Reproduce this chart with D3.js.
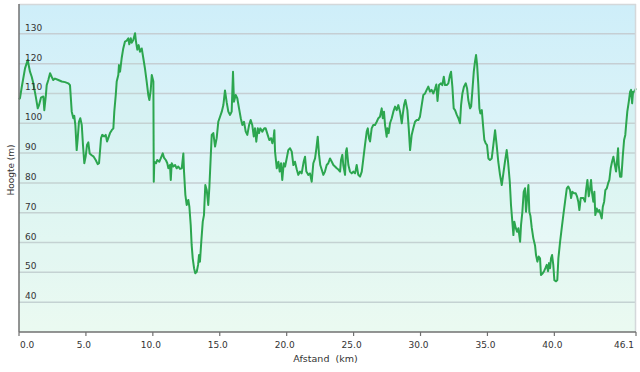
<!DOCTYPE html>
<meta charset="utf-8">
<body>
<style>
body { margin: 0; background: #fff; }
svg { display: block; }
.lbl { font: 9px "DejaVu Sans", Verdana, sans-serif; fill: #333; }
</style>
<script src="https://d3js.org/d3.v7.min.js"></script>
<script>

// distance (km) and elevation (m)
var dist = [0.00,0.07,0.20,0.45,0.65,0.82,0.95,1.07,1.25,1.40,1.49,1.64,1.82,1.89,2.00,2.07,2.19,2.32,2.44,2.56,2.69,2.94,3.19,3.44,3.68,3.81,3.94,4.06,4.13,4.21,4.31,4.39,4.48,4.58,4.69,4.78,4.88,4.98,5.08,5.18,5.28,5.43,5.58,5.73,5.88,5.98,6.13,6.22,6.37,6.48,6.58,6.67,6.80,6.93,7.05,7.12,7.23,7.30,7.42,7.47,7.55,7.67,7.79,7.92,
  8.05,8.17,8.24,8.35,8.42,8.54,8.67,8.74,8.84,8.94,9.04,9.17,9.29,9.41,9.54,9.66,9.74,9.84,9.92,10.04,10.07,10.11,10.24,10.33,10.48,10.59,10.74,10.83,10.98,11.08,11.16,11.28,11.34,11.41,11.53,11.66,11.78,11.90,12.03,12.16,12.28,12.33,12.43,12.53,12.65,12.73,12.83,12.90,12.98,13.08,13.17,13.28,13.38,13.45,13.52,13.62,13.73,13.82,13.92,14.03,14.14,14.22,14.32,14.40,14.52,14.65,14.77,14.89,15.02,15.15,15.27,15.39,15.52,15.64,15.77,15.89,15.99,16.06,16.19,16.31,16.44,16.57,16.69,16.81,16.94,17.06,17.19,17.31,17.43,17.54,17.63,17.73,17.84,17.93,18.03,18.18,18.33,18.43,18.58,18.70,18.83,18.93,19.03,19.08,19.13,19.26,19.38,19.48,19.58,19.67,19.78,19.88,
  20.00,20.12,20.25,20.38,20.50,20.62,20.75,20.87,21.00,21.12,21.27,21.37,21.47,21.62,21.74,21.87,21.99,22.12,22.22,22.32,22.42,22.51,22.61,22.74,22.86,22.99,23.11,23.24,23.37,23.49,23.61,23.74,23.86,23.99,24.06,24.16,24.23,24.36,24.43,24.49,24.61,24.73,24.86,24.98,25.11,25.23,25.35,25.48,25.61,25.73,25.85,25.98,26.06,26.15,26.23,26.35,26.47,26.60,26.73,26.85,26.97,27.10,27.18,27.27,27.35,27.47,27.52,27.62,27.72,27.85,27.97,28.10,28.22,28.34,28.47,28.60,28.67,28.77,28.87,29.02,29.12,29.22,29.34,29.46,29.59,29.72,29.84,29.96,
  30.09,30.21,30.34,30.46,30.58,30.71,30.83,30.96,31.08,31.18,31.27,31.38,31.53,31.63,31.74,31.83,31.96,32.08,32.20,32.28,32.38,32.48,32.58,32.71,32.83,32.95,33.03,33.13,33.25,33.38,33.48,33.57,33.70,33.78,33.87,33.98,34.07,34.15,34.23,34.32,34.40,34.47,34.58,34.67,34.77,34.87,34.97,35.07,35.19,35.32,35.44,35.57,35.69,35.81,35.94,36.07,36.19,36.31,36.44,36.54,36.67,36.76,36.86,36.94,37.01,37.11,37.21,37.31,37.44,37.51,37.61,37.71,37.81,37.88,37.96,38.06,38.13,38.21,38.31,38.43,38.56,38.63,38.73,38.83,38.93,39.00,39.13,39.23,39.33,39.43,39.53,39.60,39.68,39.75,39.83,39.92,
  40.00,40.13,40.22,40.30,40.43,40.55,40.67,40.80,40.93,41.04,41.17,41.25,41.34,41.47,41.60,41.69,41.79,41.87,41.97,42.07,42.17,42.29,42.37,42.47,42.57,42.67,42.74,42.82,42.91,42.99,43.06,43.17,43.27,43.36,43.47,43.54,43.62,43.72,43.81,43.92,44.02,44.11,44.21,44.31,44.41,44.52,44.61,44.69,44.76,44.81,44.91,45.01,45.11,45.21,45.30,45.36,45.45,45.56,45.66,45.73,45.81,45.88,45.98,46.10];

var elev = [108,108.4,112,118.4,121.2,117.3,115.6,113.4,109,105,106,108.6,109,104.4,109,112.8,114.5,116.8,115.6,114.5,115,114.5,114,113.8,113.4,112.8,103.9,101.7,102.5,99.4,91,95,100.5,101.7,99.4,92.7,86.6,88.8,92.7,93.6,89.9,89.3,88.8,87.7,86.3,86.6,95,96.1,95.6,96.1,93.9,95,96.7,97.7,98.3,103.9,109.5,114,116.2,119.5,117.3,121.8,125.1,127.4,
  127.7,128.5,126.5,128.5,127,127.9,130.2,127.4,124.7,126.2,124,125.1,121.8,118.4,114,109.5,107.8,111,116.2,114,80.4,87.1,86.6,87.7,87.1,88.2,89.9,88.5,87.6,86.6,84.9,86,81,86.6,85.5,86,84.9,85.5,84.7,84.9,89.9,83.8,76,72.6,74.3,72,65.9,59.2,54.7,51.4,49.7,50.2,52.5,55.8,53.6,60.3,67,69.2,79.3,77.5,72.6,78.2,88.2,96.1,96.7,92.2,95,100.5,102.2,103.9,106.1,111,107,103.9,102.8,103.9,117.3,107.2,109.5,108.4,105,101.7,99.4,100.5,97.2,96.1,99.4,101.1,99.4,95.6,98.3,93.8,98.3,96.7,98.3,97.2,98.3,98.3,96.1,94.4,95,93.3,95.5,97.7,90.5,84.9,87.1,83.8,86.6,81,86.6,85.5,
  88.2,91,91.6,90.5,86,87.1,84.6,82.7,83.8,83.2,87.1,88.8,83.8,82.7,83.2,80.4,86.6,88.2,91.6,95.5,89.4,86,84.6,82.7,83.8,86,86.6,88.2,87.1,86,85.5,84.9,84.5,83.8,87.7,89.4,86,82.7,90.5,91.6,86,83.8,83.2,83.8,83.2,86,82.7,82.1,83.8,88.2,92.7,97.2,98.3,95,93.9,98.3,99.4,99.4,100.5,101.7,102.2,105,101.7,103.9,99.4,95.5,98.3,96.7,100,101.7,103.9,105.6,104.4,106.1,103.9,100,102.8,106.1,107.8,104.4,98.3,91,96.1,98.3,100.5,101.1,101.1,102.2,
  106.1,109.5,110,111.2,112.3,110.6,111.2,110,111.5,113,107.5,112.8,113.4,112.8,115.6,112.8,112.8,113.4,116.2,117.3,112.3,105,104.4,102.8,101.7,100,106.1,110,112.3,113.4,111.7,107.8,105,105.6,110.6,117.3,120.7,122.9,119.5,112.8,105,103.3,104.4,99.4,94.4,93.3,92.7,88.2,87.7,88.2,92.7,97.7,92.7,87.1,82.7,79.3,83.2,87.1,91,87.1,80.4,72.6,67,62.5,67,65,63.6,64.8,60.3,65.9,70.3,77,78.2,70.3,74.5,79.3,70.3,69,65,61.4,58.9,55.8,53.6,55.3,54.7,49.1,49.7,50.4,51.4,52.5,50.4,53.1,51.4,54.7,55.8,52.5,
  47.4,47,47.4,54.7,60.3,64.8,69.2,73.7,78.2,78.8,77.6,74.9,77,76.5,76.5,75.5,73.7,70.9,74.9,74.9,74.9,73.7,77.6,81,75.5,78.2,81,76.5,73.7,77,69.2,71.4,70.3,70.9,69.2,68.1,72,73.7,77.6,78.2,79.9,81,84.9,87.1,88.8,86,83.8,87.7,91.6,86,82.1,82.1,88.8,94.4,96.1,99.4,103.9,107.2,110.6,111.2,106.7,110.6,110.6,111.7];

var xTicks = [0, 5, 10, 15, 20, 25, 30, 35, 40, 46.1];
var yTicks = [40, 50, 60, 70, 80, 90, 100, 110, 120, 130];

var width = 640, height = 372;
var pL = 19, pR = 636, pT = 4, pB = 332;

var svg = d3.select("body").append("svg")
    .attr("width", width)
    .attr("height", height);

var x = d3.scaleLinear().domain([0, 46.1]).range([pL, pR]);
var y = d3.scaleLinear().domain([30, 140]).range([pB, pT]);

var defs = svg.append("defs");
var grad = defs.append("linearGradient")
    .attr("id", "bg").attr("x1", 0).attr("y1", 0).attr("x2", 0).attr("y2", 1);
grad.append("stop").attr("offset", "0%").attr("stop-color", "#ceeef9");
grad.append("stop").attr("offset", "100%").attr("stop-color", "#f1fcf6");

svg.append("rect")
    .attr("x", pL).attr("y", pT)
    .attr("width", pR - pL).attr("height", pB - pT)
    .attr("fill", "url(#bg)");

// grid
svg.append("g").selectAll("line")
  .data(yTicks)
  .enter().append("line")
    .attr("x1", pL).attr("x2", pR)
    .attr("y1", function(d) { return y(d); })
    .attr("y2", function(d) { return y(d); })
    .attr("stroke", "#c5ced3")
    .attr("stroke-width", 1.5);

var pts = dist.map(function(d, i) { return [d, elev[i]]; });

var area = d3.area()
    .x(function(d) { return x(d[0]); })
    .y0(pB)
    .y1(function(d) { return y(d[1]); });

var line = d3.line()
    .x(function(d) { return x(d[0]); })
    .y(function(d) { return y(d[1]); });

svg.append("path")
    .datum(pts)
    .attr("d", area)
    .attr("fill", "rgb(190,240,210)")
    .attr("fill-opacity", 0.13);

svg.append("path")
    .datum(pts)
    .attr("d", line)
    .attr("fill", "none")
    .attr("stroke", "#2ca64f")
    .attr("stroke-width", 2)
    .attr("stroke-linejoin", "round");

// frame: light top/right, dark axes
svg.append("line").attr("x1", pL).attr("x2", pR).attr("y1", pT + 0.5).attr("y2", pT + 0.5)
    .attr("stroke", "#d4d8da").attr("stroke-width", 1.5);
svg.append("line").attr("x1", pR - 0.5).attr("x2", pR - 0.5).attr("y1", pT).attr("y2", pB)
    .attr("stroke", "#d4d8da").attr("stroke-width", 1.5);
svg.append("line").attr("x1", pL).attr("x2", pL).attr("y1", pT).attr("y2", pB)
    .attr("stroke", "#707070").attr("stroke-width", 1.5);
svg.append("line").attr("x1", pL).attr("x2", pR).attr("y1", pB).attr("y2", pB)
    .attr("stroke", "#707070").attr("stroke-width", 1.5);

// y labels inside the plot
svg.append("g").selectAll("text")
  .data(yTicks)
  .enter().append("text")
    .attr("class", "lbl")
    .attr("x", pL + 6)
    .attr("y", function(d) { return y(d) - 3; })
    .text(function(d) { return d; });

// x ticks
var xt = svg.append("g").selectAll("g")
  .data(xTicks)
  .enter().append("g")
    .attr("transform", function(d) { return "translate(" + x(d) + ",0)"; });

xt.append("line")
    .attr("y1", pB).attr("y2", pB + 4)
    .attr("stroke", "#707070").attr("stroke-width", 1.2);

xt.append("text")
    .attr("class", "lbl")
    .attr("y", pB + 16)
    .attr("dx", function(d, i) { return i == 0 ? 1 : -2; })
    .attr("text-anchor", function(d, i) { return i == 0 ? "start" : (i == xTicks.length - 1 ? "end" : "middle"); })
    .text(function(d) { return d3.format(".1f")(d); });

svg.append("text")
    .attr("class", "lbl")
    .style("font-size", "9.5px")
    .attr("x", (pL + pR) / 2 - 2)
    .attr("y", 362)
    .attr("text-anchor", "middle")
    .style("white-space", "pre")
    .text("Afstand  (km)");

svg.append("text")
    .attr("class", "lbl")
    .attr("transform", "translate(14,170) rotate(-90)")
    .attr("text-anchor", "middle")
    .text("Hoogte (m)");

</script>
</body>
